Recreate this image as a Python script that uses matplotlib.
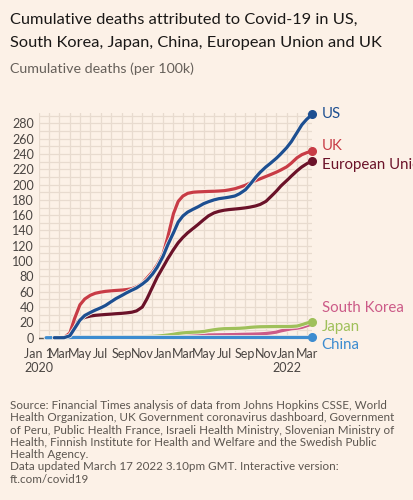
import matplotlib
matplotlib.use('Agg')
import matplotlib.pyplot as plt
import matplotlib.dates as mdates
import matplotlib.patheffects as pe
import numpy as np
import pandas as pd

nan = np.nan

# Dates of the readings (start, then 1st and 15th of each month)
dates = ['2020-01-22', '2020-02-01', '2020-02-15', '2020-03-01', '2020-03-15', '2020-04-01', '2020-04-15',
         '2020-05-01', '2020-05-15', '2020-06-01', '2020-06-15', '2020-07-01', '2020-07-15', '2020-08-01',
         '2020-08-15', '2020-09-01', '2020-09-15', '2020-10-01', '2020-10-15', '2020-11-01', '2020-11-15',
         '2020-12-01', '2020-12-15', '2021-01-01', '2021-01-15', '2021-02-01', '2021-02-15', '2021-03-01',
         '2021-03-15', '2021-04-01', '2021-04-15', '2021-05-01', '2021-05-15', '2021-06-01', '2021-06-15',
         '2021-07-01', '2021-07-15', '2021-08-01', '2021-08-15', '2021-09-01', '2021-09-15', '2021-10-01',
         '2021-10-15', '2021-11-01', '2021-11-15', '2021-12-01', '2021-12-15', '2022-01-01', '2022-01-15',
         '2022-02-01', '2022-02-15', '2022-03-01', '2022-03-17']

# Cumulative deaths per 100k
us = [nan, nan, 0, 0, 0.05, 2.5, 12, 23, 29, 33, 36, 39, 42, 47, 51, 55, 58.5, 62, 65, 70, 75, 83, 92,
      106, 121, 137, 151, 159, 164, 168, 171, 175, 177.5, 180, 181.5, 182.5, 183.5, 185, 188, 193, 200,
      209, 216, 223, 228, 234, 240, 248, 256, 268, 278, 285, 291.5]
uk = [nan, nan, nan, 0, 0.1, 6, 25, 43, 50.5, 55.5, 58, 59.5, 60.5, 61.2, 61.7, 62.2, 62.8, 64, 66.5, 71,
      78, 86, 95, 109, 131, 162, 178, 185, 188.5, 190, 190.4, 190.7, 191, 191.2, 191.5, 192, 193, 194.5,
      196.5, 199, 202, 205, 207.5, 210.5, 213, 216, 219, 223, 228, 235, 239, 241.5, 244]
eu = [nan, nan, 0, 0.01, 0.5, 6, 17, 23.5, 26.5, 28.3, 29.2, 29.8, 30.3, 30.8, 31.3, 31.8, 32.4, 33.3, 35,
      40, 51, 66, 79, 92, 103, 115, 124, 131, 137, 143, 148, 154, 159, 163, 165, 166.5, 167.3, 168, 168.6,
      169.5, 170.5, 172, 174, 178, 184, 191, 198, 205, 211, 218, 223, 227, 231]
south_korea = [0, 0, 0, 0.04, 0.15, 0.3, 0.44, 0.48, 0.5, 0.52, 0.54, 0.55, 0.57, 0.58, 0.6, 0.62, 0.72,
               0.8, 0.83, 0.9, 0.95, 1.0, 1.2, 1.8, 2.3, 2.8, 3.0, 3.1, 3.2, 3.4, 3.5, 3.5, 3.6, 3.7, 3.8,
               3.9, 4.0, 4.1, 4.3, 4.5, 4.6, 4.8, 5.0, 5.5, 6.2, 7.2, 8.9, 10.4, 11.6, 12.4, 13.5, 15.5, 18.0]
japan = [0, 0, 0, 0.005, 0.02, 0.05, 0.2, 0.3, 0.6, 0.7, 0.75, 0.78, 0.79, 0.81, 0.86, 1.0, 1.1, 1.25,
         1.32, 1.4, 1.53, 1.7, 2.1, 2.8, 3.5, 4.5, 5.6, 6.3, 6.8, 7.2, 7.5, 8.1, 9.2, 10.4, 11.2, 11.8, 11.9,
         12.1, 12.3, 12.8, 13.5, 14.0, 14.3, 14.4, 14.5, 14.6, 14.6, 14.6, 14.7, 15.2, 17.0, 19.0, 21.0]
china = [0.0, 0.02, 0.12, 0.21, 0.23, 0.24, 0.33, 0.33, 0.33, 0.33, 0.33, 0.33, 0.33, 0.33, 0.33, 0.33,
         0.33, 0.33, 0.33, 0.33, 0.33, 0.33, 0.33, 0.33, 0.33, 0.34, 0.34, 0.34, 0.34, 0.34, 0.34, 0.34,
         0.34, 0.34, 0.34, 0.34, 0.34, 0.34, 0.34, 0.34, 0.34, 0.34, 0.34, 0.34, 0.34, 0.34, 0.34, 0.34,
         0.34, 0.34, 0.34, 0.34, 0.34]

names = ['South Korea', 'Japan', 'China', 'European Union', 'UK', 'US']
series = [south_korea, japan, china, eu, uk, us]

bg = '#fcf1e7'
colors = {'US': '#1d4f91', 'UK': '#c83c46', 'European Union': '#6b1229',
          'South Korea': '#cc5b88', 'Japan': '#9fc05a', 'China': '#3d8cd0'}
# vertical nudge of the end labels, in points
label_dy = {'US': 0, 'UK': 3.4, 'European Union': -2.9, 'South Korea': 11.5, 'Japan': -3.8, 'China': -5.4}
end_dot = {'US': True, 'UK': True, 'European Union': True, 'South Korea': False, 'Japan': True, 'China': True}

plt.rcParams['font.family'] = ['Lato', 'DejaVu Sans']

x = pd.to_datetime(dates)

fig = plt.figure(figsize=(4.13, 5.0), dpi=100, facecolor=bg)
ax = fig.add_axes([39 / 413, 0.32, 273 / 413, 0.4534])
ax.set_facecolor(bg)

# grid: monthly verticals, every 10 horizontally
ax.xaxis.set_minor_locator(mdates.MonthLocator())
ax.xaxis.set_major_locator(mdates.MonthLocator(bymonth=[1, 3, 5, 7, 9, 11]))
ax.yaxis.set_major_locator(plt.MultipleLocator(20))
ax.yaxis.set_minor_locator(plt.MultipleLocator(10))
ax.grid(which='both', color='#e8dbcf', linewidth=0.9)
ax.set_axisbelow(True)

ax.axhline(0, color='#5a5550', linewidth=1.0, zorder=1)

for name, vals in zip(names, series):
    c = colors[name]
    ax.plot(x, vals, color=c, linewidth=2.3, solid_capstyle='round', clip_on=False, zorder=3,
            path_effects=[pe.Stroke(linewidth=3.4, foreground=bg), pe.Normal()])
    last = vals[-1]
    if end_dot[name]:
        ax.plot(x[-1], last, 'o', color=c, markersize=5.5, clip_on=False, zorder=4)
    ax.annotate(name, xy=(x[-1], last), xytext=(7, label_dy[name]), textcoords='offset points',
                va='center', ha='left', fontsize=10.8, color=c, annotation_clip=False)

ax.set_xlim(pd.Timestamp('2020-01-01'), pd.Timestamp('2022-03-17'))
ax.set_ylim(-3, 293)
ax.set_yticks(range(0, 281, 20))


def month_label(v, pos):
    d = mdates.num2date(v)
    if d.year == 2020 and d.month == 1:
        return 'Jan 1\n2020'
    if d.year == 2022 and d.month == 1:
        return 'Jan\n2022'
    return d.strftime('%b')


ax.xaxis.set_major_formatter(plt.FuncFormatter(month_label))
ax.tick_params(which='both', length=0)
ax.tick_params(axis='y', pad=3.6, labelsize=9, labelcolor='#4a4542')
ax.tick_params(axis='x', pad=6, labelsize=9, labelcolor='#4a4542')
for s in ax.spines.values():
    s.set_visible(False)

fig.text(10 / 413, 1 - 20 / 500, 'Cumulative deaths attributed to Covid-19 in US,',
         fontsize=11.8, color='#1a1817', va='center')
fig.text(10 / 413, 1 - 43 / 500, 'South Korea, Japan, China, European Union and UK',
         fontsize=11.8, color='#1a1817', va='center')
fig.text(10 / 413, 1 - 69 / 500, 'Cumulative deaths (per 100k)',
         fontsize=10.3, color='#66605a', va='center')

source = ('Source: Financial Times analysis of data from Johns Hopkins CSSE, World\n'
          'Health Organization, UK Government coronavirus dashboard, Government\n'
          'of Peru, Public Health France, Israeli Health Ministry, Slovenian Ministry of\n'
          'Health, Finnish Institute for Health and Welfare and the Swedish Public\n'
          'Health Agency.\n'
          'Data updated March 17 2022 3.10pm GMT. Interactive version:\n'
          'ft.com/covid19')
fig.text(10 / 413, 1 - 400 / 500, source, fontsize=8.4, color='#5c5650', va='top', linespacing=1.14)

fig.savefig('out.png', dpi=100, facecolor=bg)
